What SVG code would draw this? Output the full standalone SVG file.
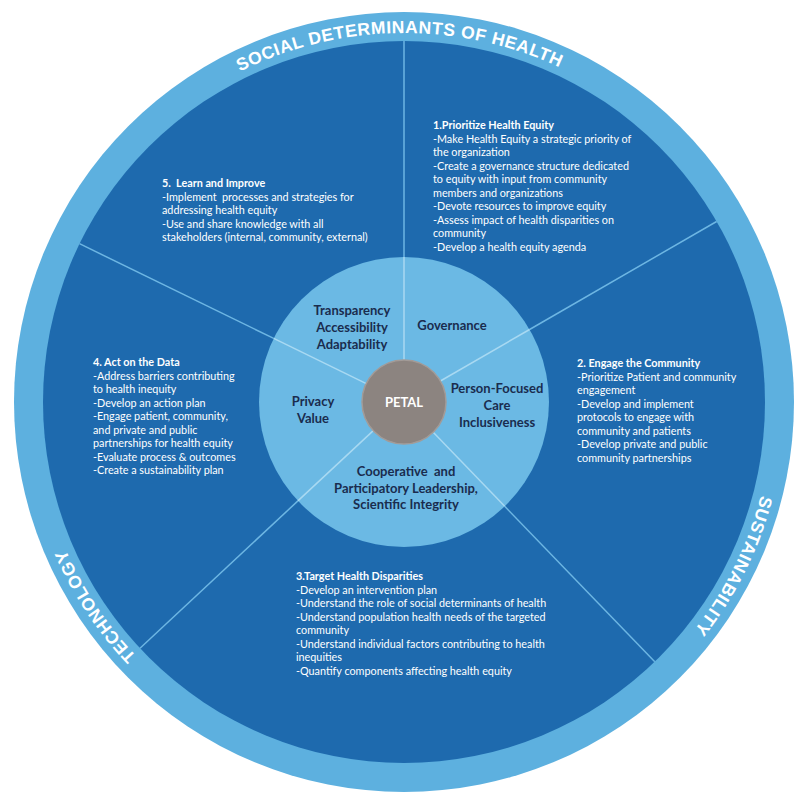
<svg xmlns="http://www.w3.org/2000/svg" xmlns:xlink="http://www.w3.org/1999/xlink" width="800" height="801" viewBox="0 0 800 801">
<style>
.body{font-family:Lato,"Liberation Sans",sans-serif;font-size:10.8px;fill:#ffffff}
.ttl{font-weight:700}
.lbl{font-family:Lato,"Liberation Sans",sans-serif;font-size:13px;font-weight:700;fill:#1a2c4e;text-anchor:middle}
.ring{font-family:"Liberation Sans",Arial,sans-serif;font-size:17.5px;font-weight:700;fill:#ffffff;letter-spacing:0.6px}
.dk{stroke:#6db6e3;stroke-width:1.5;fill:none}
.lt{stroke:#a8d9f2;stroke-width:1.5;fill:none}
.pre{white-space:pre}
</style>
<defs>
<path id="arcTop" d="M35,402 A369,369 0 0 1 773,402"/>
<path id="arcRight" d="M404,33 A369,369 0 0 1 404,771"/>
<path id="arcLeft" d="M404,771 A369,369 0 0 1 404,33"/>
</defs>
<rect width="800" height="801" fill="#ffffff"/>
<g id="ring">
<circle cx="404" cy="402" r="390" fill="#5db0df"/>
<circle cx="404" cy="402" r="361" fill="#1e6aae"/>
<text class="ring"><textPath xlink:href="#arcTop" href="#arcTop" startOffset="49.6%" text-anchor="middle">SOCIAL DETERMINANTS OF HEALTH</textPath></text>
<text class="ring"><textPath xlink:href="#arcRight" href="#arcRight" startOffset="64.7%" text-anchor="middle">SUSTAINABILITY</textPath></text>
<text class="ring"><textPath xlink:href="#arcLeft" href="#arcLeft" startOffset="31.4%" text-anchor="middle">TECHNOLOGY</textPath></text>
</g>
<g id="inner">
<circle cx="404" cy="402" r="145" fill="#6bb9e4"/>
</g>
<g id="connectors">
<line class="dk" x1="404" y1="257" x2="404" y2="41"/>
<line class="dk" x1="529.6" y1="329.5" x2="716.6" y2="221.5"/>
<line class="dk" x1="504.7" y1="506.3" x2="654.8" y2="661.7"/>
<line class="dk" x1="297.9" y1="500.9" x2="140" y2="648.2"/>
<line class="dk" x1="273.7" y1="338.4" x2="79.5" y2="243.7"/>
<line class="lt" x1="404" y1="360" x2="404" y2="257"/>
<line class="lt" x1="440.4" y1="381" x2="529.6" y2="329.5"/>
<line class="lt" x1="433.2" y1="432.2" x2="504.7" y2="506.3"/>
<line class="lt" x1="373.3" y1="430.6" x2="297.9" y2="500.9"/>
<line class="lt" x1="366.3" y1="383.6" x2="273.7" y2="338.4"/>
</g>
<g id="petal">
<circle cx="404" cy="402" r="42" fill="#8c8480" stroke="#a39b97" stroke-width="1.5"/>
<text x="404" y="407" font-family="Lato,'Liberation Sans',sans-serif" font-size="13" font-weight="700" fill="#ffffff" text-anchor="middle">PETAL</text>
</g>
<g id="value-transparency">
<text class="lbl" x="352" y="315">Transparency<tspan x="352" dy="17">Accessibility</tspan><tspan x="352" dy="17">Adaptability</tspan></text>
</g>
<g id="value-governance">
<text class="lbl" x="452" y="330">Governance</text>
</g>
<g id="value-person">
<text class="lbl" x="497" y="393">Person-Focused<tspan x="497" dy="17">Care</tspan><tspan x="497" dy="17">Inclusiveness</tspan></text>
</g>
<g id="value-cooperative">
<text class="lbl pre" x="406" y="476">Cooperative  and<tspan x="406" dy="16.5">Participatory Leadership,</tspan><tspan x="406" dy="16.5">Scientific Integrity</tspan></text>
</g>
<g id="value-privacy">
<text class="lbl" x="313" y="406">Privacy<tspan x="313" dy="17">Value</tspan></text>
</g>
<g id="step1">
<text class="body" x="433" y="129"><tspan class="ttl">1.Prioritize Health Equity</tspan><tspan x="433" dy="13.5">-Make Health Equity a strategic priority of</tspan><tspan x="433" dy="13.5">the organization</tspan><tspan x="433" dy="13.5">-Create a governance structure dedicated</tspan><tspan x="433" dy="13.5">to equity with input from community</tspan><tspan x="433" dy="13.5">members and organizations</tspan><tspan x="433" dy="13.5">-Devote resources to improve equity</tspan><tspan x="433" dy="13.5">-Assess impact of health disparities on</tspan><tspan x="433" dy="13.5">community</tspan><tspan x="433" dy="13.5">-Develop a health equity agenda</tspan></text>
</g>
<g id="step2">
<text class="body" x="577" y="367"><tspan class="ttl">2. Engage the Community</tspan><tspan x="577" dy="13.5">-Prioritize Patient and community</tspan><tspan x="577" dy="13.5">engagement</tspan><tspan x="577" dy="13.5">-Develop and implement</tspan><tspan x="577" dy="13.5">protocols to engage with</tspan><tspan x="577" dy="13.5">community and patients</tspan><tspan x="577" dy="13.5">-Develop private and public</tspan><tspan x="577" dy="13.5">community partnerships</tspan></text>
</g>
<g id="step3">
<text class="body" x="296" y="580"><tspan class="ttl">3.Target Health Disparities</tspan><tspan x="296" dy="13.5">-Develop an intervention plan</tspan><tspan x="296" dy="13.5">-Understand the role of social determinants of health</tspan><tspan x="296" dy="13.5">-Understand population health needs of the targeted</tspan><tspan x="296" dy="13.5">community</tspan><tspan x="296" dy="13.5">-Understand individual factors contributing to health</tspan><tspan x="296" dy="13.5">inequities</tspan><tspan x="296" dy="13.5">-Quantify components affecting health equity</tspan></text>
</g>
<g id="step4">
<text class="body" x="93" y="366"><tspan class="ttl">4. Act on the Data</tspan><tspan x="93" dy="13.5">-Address barriers contributing</tspan><tspan x="93" dy="13.5">to health inequity</tspan><tspan x="93" dy="13.5">-Develop an action plan</tspan><tspan x="93" dy="13.5">-Engage patient, community,</tspan><tspan x="93" dy="13.5">and private and public</tspan><tspan x="93" dy="13.5">partnerships for health equity</tspan><tspan x="93" dy="13.5">-Evaluate process &amp; outcomes</tspan><tspan x="93" dy="13.5">-Create a sustainability plan</tspan></text>
</g>
<g id="step5">
<text class="body pre" x="162" y="187"><tspan class="ttl">5.  Learn and Improve</tspan><tspan x="162" dy="13.5">-Implement  processes and strategies for</tspan><tspan x="162" dy="13.5">addressing health equity</tspan><tspan x="162" dy="13.5">-Use and share knowledge with all</tspan><tspan x="162" dy="13.5">stakeholders (internal, community, external)</tspan></text>
</g>
</svg>
